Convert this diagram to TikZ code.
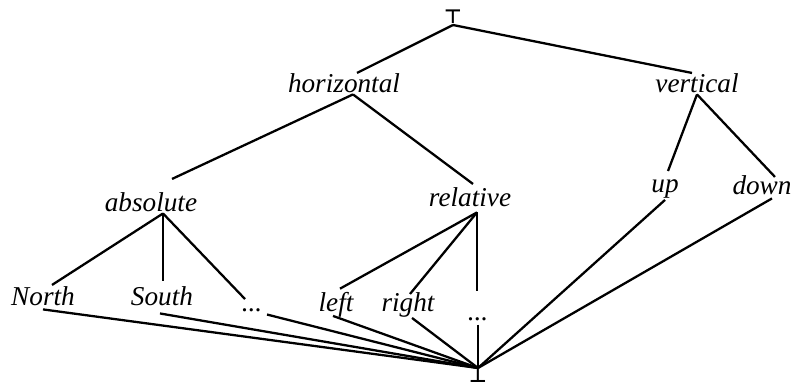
\documentclass[tikz,border=0pt]{standalone}
\usepackage{fontspec}
\setmainfont{Liberation Serif}
\newfontfamily\symfont{DejaVu Sans}
\usepackage{tikz}
\usetikzlibrary{calc}

\begin{document}
\begin{tikzpicture}[x=0.02cm, y=-0.02cm, line width=1.3pt,
    word/.style={font=\fontsize{15.5}{18}\selectfont\itshape, inner sep=0pt, anchor=base},
    bound/.style={font=\fontsize{11}{13}\selectfont\symfont\bfseries, inner sep=0pt}]
  \useasboundingbox (0,0) rectangle (791,388);
  % top and bottom
  \node[bound, anchor=south] (top) at (453,25) {⊤};
  \node[bound, anchor=north] (bot) at (478,368) {⊥};
  % upper levels
  \node[word] (horizontal) at (344,93) {horizontal};
  \node[word] (vertical) at (697,93) {vertical};
  \node[word] (absolute) at (151,212) {absolute};
  \node[word] (relative) at (470,207) {relative};
  \node[word] (up) at (665,193) {up};
  \node[word] (down) at (762,195) {down};
  % leaves
  \node[word] (north) at (43,305) {North};
  \node[word] (south) at (162,305) {South};
  \node[word] (dotsa) at (252,312) {...};
  \node[word] (left) at (336,312) {left};
  \node[word] (right) at (408,312) {right};
  \node[word] (dotsb) at (478,320) {...};

  \draw (top.south) -- ($(horizontal.north)+(13,0)$);
  \draw (top.south) -- ($(vertical.north)+(-5,0)$);
  \draw ($(horizontal.south)+(9,0)$) -- ($(absolute.north)+(21,-13)$);
  \draw ($(horizontal.south)+(9,0)$) -- ($(relative.north)+(3,-3)$);
  \draw (vertical.south) -- ($(up.north)+(3,-8)$);
  \draw (vertical.south) -- ($(down.north)+(13,2)$);

  \draw ($(absolute.south)+(12,0)$) -- ($(north.north)+(9,0)$);
  \draw ($(absolute.south)+(12,0)$) -- ($(south.north)+(1,-4)$);
  \draw ($(absolute.south)+(12,0)$) -- ($(dotsa.north)+(-7,-9)$);
  \draw ($(relative.south)+(7,4)$) -- ($(left.north)+(4,-3)$);
  \draw ($(relative.south)+(7,4)$) -- ($(right.north)+(2,2)$);
  \draw ($(relative.south)+(7,4)$) -- ($(dotsb.north)+(-1,-25)$);

  \draw ($(north.south)+(0,3)$) -- (bot.north);
  \draw ($(south.south)+(-2,7)$) -- (bot.north);
  \draw ($(dotsa.south)+(15,1)$) -- (bot.north);
  \draw ($(left.south)+(-3,-3)$) -- (bot.north);
  \draw ($(right.south)+(4,-1)$) -- (bot.north);
  \draw ($(dotsb.south)+(0,3)$) -- (bot.north);
  \draw (up.south) -- (bot.north);
  \draw ($(down.south)+(10,2)$) -- (bot.north);
\end{tikzpicture}
\end{document}
